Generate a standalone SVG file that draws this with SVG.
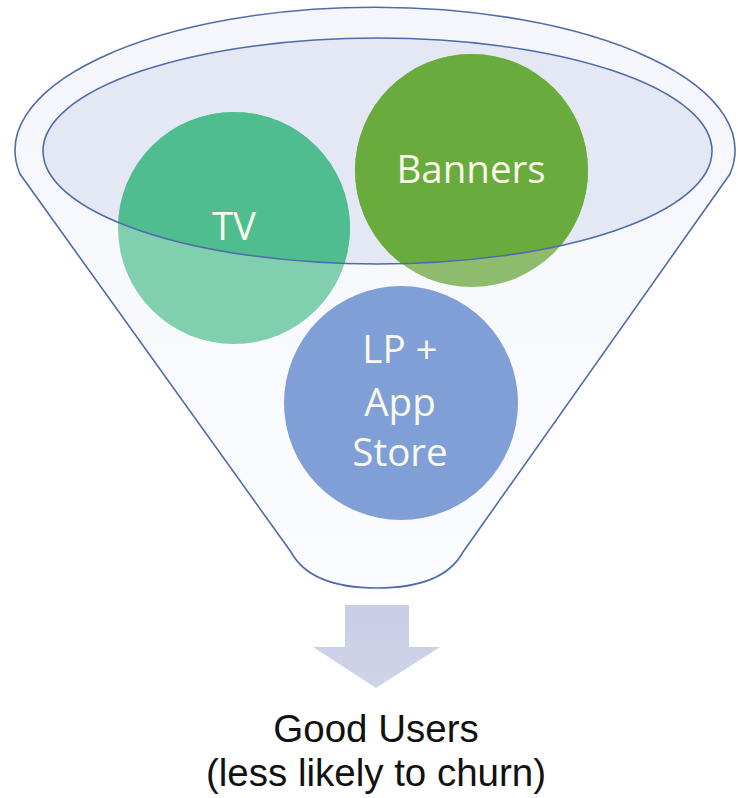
<svg xmlns="http://www.w3.org/2000/svg" width="738" height="798" viewBox="0 0 738 798">
  <defs>
    <style>
      .outline { fill: none; stroke: #4f6ca8; stroke-width: 1.6; }
      .label { font-family: "Open Sans", "Liberation Sans", sans-serif; fill: #f8f9ea; text-anchor: middle; font-size: 38.5px; }
      .caption { font-family: "Liberation Sans", Arial, sans-serif; fill: #111111; text-anchor: middle; font-size: 38.5px; }
    </style>
    <linearGradient id="funnelFill" x1="0" y1="0" x2="0" y2="1">
      <stop offset="0" stop-color="#f4f6fc"/>
      <stop offset="1" stop-color="#fbfcff"/>
    </linearGradient>
    <linearGradient id="arrowFill" x1="0" y1="0" x2="0" y2="1">
      <stop offset="0" stop-color="#c8cde6"/>
      <stop offset="1" stop-color="#d0d4ea"/>
    </linearGradient>
    <clipPath id="mouth">
      <ellipse cx="377.5" cy="151" rx="334.5" ry="113"/>
    </clipPath>
  </defs>

  <!-- funnel body -->
  <g id="funnel">
    <path d="M 20 174 A 360 143 0 1 1 730 174 L 463 552 C 450 576 420 588 377 588 C 334 588 304 576 291 552 Z" fill="url(#funnelFill)" stroke="#4f6ca8" stroke-width="1.6"/>
    <ellipse cx="377.5" cy="151" rx="334.5" ry="113" fill="#e4e8f4"/>
  </g>

  <!-- channels -->
  <g id="circle-tv">
    <circle cx="234" cy="228" r="116" fill="#80d0b0"/>
    <circle cx="234" cy="228" r="116" fill="#4fbd8f" clip-path="url(#mouth)"/>
    <text class="label" x="234" y="240">TV</text>
  </g>
  <g id="circle-banners">
    <circle cx="471.5" cy="170.5" r="116.5" fill="#8fbc6c"/>
    <circle cx="471.5" cy="170.5" r="116.5" fill="#6aab3e" clip-path="url(#mouth)"/>
    <text class="label" x="471" y="183">Banners</text>
  </g>
  <g id="circle-lp">
    <circle cx="401" cy="403" r="117" fill="#809fd7"/>
    <text class="label" x="400" y="363">LP +</text>
    <text class="label" x="400" y="416">App</text>
    <text class="label" x="400" y="466">Store</text>
  </g>

  <!-- rim of the funnel mouth, drawn over the circles -->
  <ellipse class="outline" cx="377.5" cy="151" rx="334.5" ry="113" stroke-width="2"/>

  <!-- output arrow -->
  <g id="connectors">
    <path id="arrow" d="M 345 605 L 409 605 L 409 647 L 440 647 L 376 688 L 313 647 L 345 647 Z" fill="url(#arrowFill)"/>
  </g>

  <g id="result">
    <text class="caption" x="376" y="742">Good Users</text>
    <text class="caption" x="376" y="786">(less likely to churn)</text>
  </g>
</svg>
